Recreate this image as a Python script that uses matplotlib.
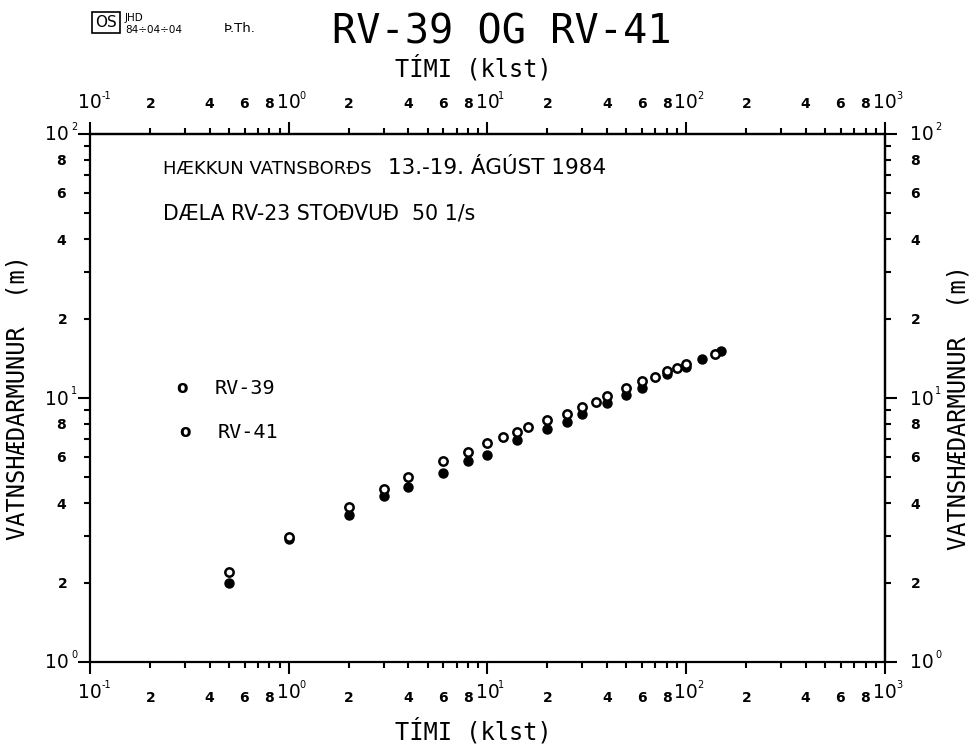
import numpy as np
import matplotlib
matplotlib.use("Agg")
import matplotlib.pyplot as plt
from matplotlib.ticker import FixedLocator, FuncFormatter, NullFormatter
from matplotlib.patches import Rectangle

# ---- data ----
t_rv39 = [0.5, 1, 2, 3, 4, 6, 8, 10, 12, 14, 16, 20, 25, 30, 35, 40, 50, 60, 70, 80, 90, 100, 140]
h_rv39 = [2.20, 2.98, 3.87, 4.52, 5.02, 5.77, 6.27, 6.74, 7.11, 7.45, 7.74, 8.27, 8.73, 9.21, 9.69,
          10.19, 10.91, 11.62, 12.06, 12.70, 13.04, 13.47, 14.68]
t_rv41 = [0.5, 1, 2, 3, 4, 6, 8, 10, 14, 20, 25, 30, 40, 50, 60, 80, 100, 120, 150]
h_rv41 = [2.00, 2.93, 3.62, 4.26, 4.62, 5.21, 5.75, 6.10, 6.94, 7.60, 8.11, 8.67, 9.54, 10.30,
          10.93, 12.28, 13.05, 14.02, 15.11]

x_major = [0.1, 1, 10, 100, 1000]
y_major = [1, 10, 100]
minor_digits = [2, 3, 4, 5, 6, 7, 8, 9]
labeled_minor = [2, 4, 6, 8]

title = "RV-39 OG RV-41"
xlabel = "TÍMI (klst)"
ylabel = "VATNSHÆDARMUNUR  (m)"
note1a = "HÆKKUN VATNSBORÐS"
note1b = "13.-19. ÁGÚST 1984"
note2 = "DÆLA RV-23 STOÐVUÐ  50 1/s"
series_names = ["RV-39", "RV-41"]

W, H = 970, 749
fig = plt.figure(figsize=(W / 100, H / 100), dpi=100)
fig.patch.set_facecolor("white")

def fx(px):
    return px / W

def fy(py):
    return 1 - py / H

L, R, T, B = 90, 885, 134, 662
ax = fig.add_axes([fx(L), fy(B), fx(R - L), (B - T) / H])
ax.set_xscale("log")
ax.set_yscale("log")
ax.set_xlim(0.1, 1000)
ax.set_ylim(1, 100)
for s in ax.spines.values():
    s.set_linewidth(1.6)

ax.plot(t_rv39, h_rv39, linestyle="none", marker="o", markersize=6, markerfacecolor="white",
        markeredgecolor="black", markeredgewidth=1.8, zorder=3)
ax.plot(t_rv41, h_rv41, linestyle="none", marker="o", markersize=6.5, markerfacecolor="black",
        markeredgecolor="black", zorder=2)

def minor_positions(decades):
    return [k * d for d in decades for k in minor_digits]

def minor_fmt(v, pos):
    k = int(round(v / 10 ** np.floor(np.log10(v) + 1e-9)))
    return r"$\mathbf{%d}$" % k if k in labeled_minor else ""

def setup_axis(axis, majors, decades):
    axis.set_major_locator(FixedLocator(majors))
    axis.set_minor_locator(FixedLocator(minor_positions(decades)))
    axis.set_major_formatter(NullFormatter())
    axis.set_minor_formatter(FuncFormatter(minor_fmt))

secx = ax.secondary_xaxis("top")
secy = ax.secondary_yaxis("right")
secx.spines["top"].set_linewidth(1.6)
secy.spines["right"].set_linewidth(1.6)

setup_axis(ax.xaxis, x_major, [0.1, 1, 10, 100])
setup_axis(secx.xaxis, x_major, [0.1, 1, 10, 100])
setup_axis(ax.yaxis, y_major, [1, 10])
setup_axis(secy.yaxis, y_major, [1, 10])

ax.tick_params(axis="x", which="major", direction="out", length=8.6, width=1.5)
ax.tick_params(axis="x", which="minor", direction="out", length=4.3, width=1.5, pad=16.5, labelsize=10)
secx.tick_params(axis="x", which="major", direction="out", length=8.6, width=1.5)
secx.tick_params(axis="x", which="minor", direction="out", length=4.3, width=1.5, pad=12, labelsize=10)
ax.tick_params(axis="y", which="major", direction="out", length=8.6, width=1.5)
ax.tick_params(axis="y", which="minor", direction="out", length=4.3, width=1.5, pad=12, labelsize=10)
secy.tick_params(axis="y", which="major", direction="out", length=8.6, width=1.5)
secy.tick_params(axis="y", which="minor", direction="out", length=4.3, width=1.5, pad=14, labelsize=10)

# decade labels: "10" centred on the tick, tiny exponent at its upper right
dec_size, exp_size = 13.5, 7
for v in x_major:
    e = "%d" % int(round(np.log10(v)))
    for dy_ten, dy_exp in ((30, 23), (-31, -38)):
        ax.annotate("10", xy=(v, 0 if dy_ten > 0 else 1), xycoords=("data", "axes fraction"),
                    xytext=(0, -dy_ten), textcoords="offset pixels", ha="center", va="center",
                    fontsize=dec_size, annotation_clip=False)
        ax.annotate(e, xy=(v, 0 if dy_ten > 0 else 1), xycoords=("data", "axes fraction"),
                    xytext=(14 + (2 if e.startswith("-") else 0), -dy_exp), textcoords="offset pixels",
                    ha="center", va="center", fontsize=exp_size, annotation_clip=False)
for v in y_major:
    e = "%d" % int(round(np.log10(v)))
    for xa, dx_ten, dx_exp in ((0, -33, -16), (1, 37, 53)):
        ax.annotate("10", xy=(xa, v), xycoords=("axes fraction", "data"),
                    xytext=(dx_ten, -1), textcoords="offset pixels", ha="center", va="center",
                    fontsize=dec_size, annotation_clip=False)
        ax.annotate(e, xy=(xa, v), xycoords=("axes fraction", "data"),
                    xytext=(dx_exp, 7), textcoords="offset pixels", ha="center", va="center",
                    fontsize=exp_size, annotation_clip=False)

mono = "DejaVu Sans Mono"
fig.text(fx(502), fy(33), title, family=mono, fontsize=29, ha="center", va="center")
fig.text(fx(473), fy(68), xlabel, family=mono, fontsize=17, ha="center", va="center")
fig.text(fx(473), fy(731), xlabel, family=mono, fontsize=17, ha="center", va="center")
fig.text(fx(18), fy(398), ylabel, family=mono, fontsize=17, ha="center", va="center", rotation=90)
fig.text(fx(959), fy(407), ylabel, family=mono, fontsize=17, ha="center", va="center", rotation=90)

# header stamp
fig.add_artist(Rectangle((fx(92), fy(33)), fx(28), (33 - 12) / H, transform=fig.transFigure,
                         fill=False, lw=1.2, ec="black"))
fig.text(fx(106), fy(22.5), "OS", family="DejaVu Sans", fontsize=11, ha="center", va="center")
fig.text(fx(125), fy(18), "JHD", family="DejaVu Sans", fontsize=7.5, ha="left", va="center")
fig.text(fx(125), fy(30), "84÷04÷04", family="DejaVu Sans", fontsize=7.5, ha="left", va="center")
fig.text(fx(224), fy(29), "Þ.Th.", family="DejaVu Sans", fontsize=9.5, ha="left", va="center")

# notes inside the plot
fig.text(fx(163), fy(169), note1a, family="DejaVu Sans", fontsize=13, ha="left", va="center")
fig.text(fx(388), fy(168), note1b, family="DejaVu Sans", fontsize=15.5, ha="left", va="center")
fig.text(fx(163), fy(213), note2, family="DejaVu Sans", fontsize=14.8, ha="left", va="center")

# legend-like labels
fig.text(fx(182), fy(388), "o", family="DejaVu Sans", fontsize=12, fontweight="bold", ha="center", va="center")
fig.text(fx(215), fy(388), series_names[0], family=mono, fontsize=14.5, ha="left", va="center")
fig.text(fx(185), fy(432), "o", family="DejaVu Sans", fontsize=12, fontweight="bold", ha="center", va="center")
fig.text(fx(218), fy(432), series_names[1], family=mono, fontsize=14.5, ha="left", va="center")

fig.savefig("out.png", dpi=100, facecolor="white")
